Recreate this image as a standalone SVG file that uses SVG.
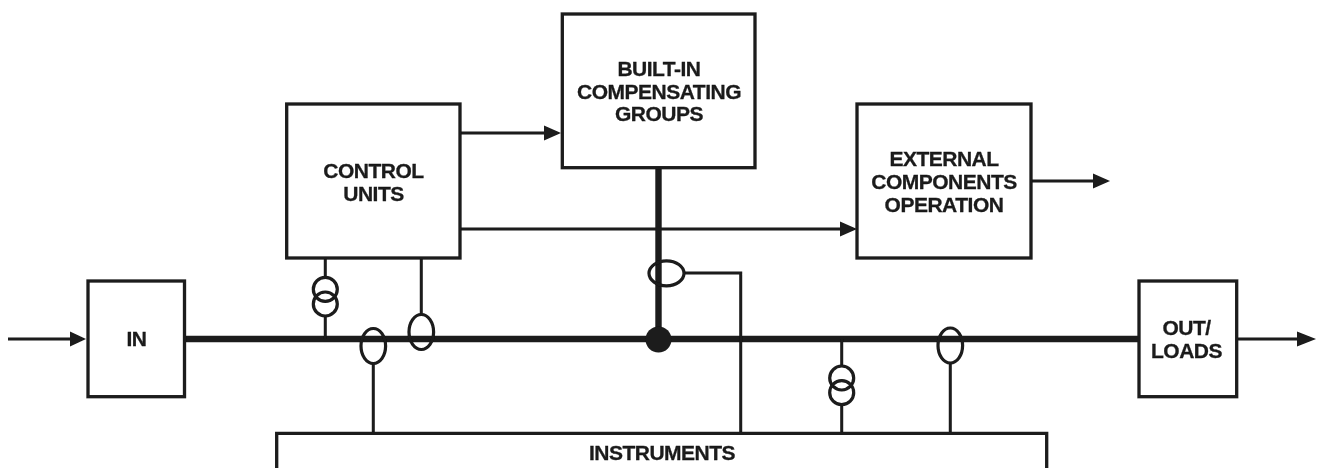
<svg xmlns="http://www.w3.org/2000/svg" width="1320" height="468" viewBox="0 0 1320 468">
<style>
.box{fill:#fff;stroke:#1a1a1a;stroke-width:3.3}
.bus{fill:none;stroke:#1a1a1a;stroke-width:6.4}
.wire{fill:none;stroke:#1a1a1a;stroke-width:3}
.ring{fill:none;stroke:#1a1a1a;stroke-width:3.2}
.head{fill:#1a1a1a}
text{font-family:"Liberation Sans",Arial,sans-serif;font-weight:700;font-size:21px;letter-spacing:-.5px;fill:#1a1a1a;stroke:#1a1a1a;stroke-width:.3;text-anchor:middle}
</style>
<defs><filter id="soft" filterUnits="userSpaceOnUse" x="0" y="0" width="1320" height="468"><feGaussianBlur stdDeviation="0.45"/></filter></defs>
<rect width="1320" height="468" fill="#fff"/>
<g filter="url(#soft)">
<g id="connectors">
<path class="bus" d="M184 339H1139M658.500 168V339"/>
<circle class="head" cx="658.500" cy="339.500" r="13"/>
<path class="wire" d="M8 339H72M1237 339H1300M460 133H546M460 229H842M1031 181H1095"/>
<path class="head" d="M70 331.500L86 339L70 346.500ZM1297 331.500L1316 339L1297 346.500ZM544 125.500L561 133L544 140.500ZM840 221.500L857 229L840 236.500ZM1093 173.500L1110 181L1093 188.500Z"/>
<path class="wire" d="M325.300 258V277M325.300 316V339M421.300 258V314M373.300 364V433M685 273H740.700V433M841.700 339V366M841.700 405V433M950.300 364V433"/>
<circle class="ring" cx="325.300" cy="289.300" r="12"/>
<circle class="ring" cx="325.300" cy="304" r="12"/>
<circle class="ring" cx="841.700" cy="378" r="12"/>
<circle class="ring" cx="841.700" cy="392.700" r="12"/>
<ellipse class="ring" cx="373.300" cy="346" rx="12.300" ry="17.500"/>
<ellipse class="ring" cx="421.300" cy="332" rx="12.300" ry="17.500"/>
<ellipse class="ring" cx="950.300" cy="345.500" rx="12.300" ry="17.500"/>
<ellipse class="ring" cx="666.500" cy="273.300" rx="17.500" ry="12.500"/>
</g>
<g id="in"><rect class="box" x="88" y="281" width="96.500" height="115.700"/><text x="136.500" y="346">IN</text></g>
<g id="out-loads"><rect class="box" x="1139" y="281" width="97.700" height="115.700"/><text x="1186.500" y="335">OUT/</text><text x="1186.500" y="358">LOADS</text></g>
<g id="control-units"><rect class="box" x="286.700" y="104" width="173.300" height="154"/><text x="373.500" y="178">CONTROL</text><text x="373.500" y="201">UNITS</text></g>
<g id="built-in-compensating-groups"><rect class="box" x="562.300" y="14" width="192.700" height="153.700"/><text x="659" y="76">BUILT-IN</text><text x="659" y="98.500">COMPENSATING</text><text x="659" y="121">GROUPS</text></g>
<g id="external-components-operation"><rect class="box" x="857" y="104" width="174" height="154"/><text x="944" y="166">EXTERNAL</text><text x="944" y="189">COMPONENTS</text><text x="944" y="212">OPERATION</text></g>
<g id="instruments"><path class="box" d="M276.700 470V433.300H1046.700V470"/><text x="662" y="460">INSTRUMENTS</text></g>
</g>
</svg>
